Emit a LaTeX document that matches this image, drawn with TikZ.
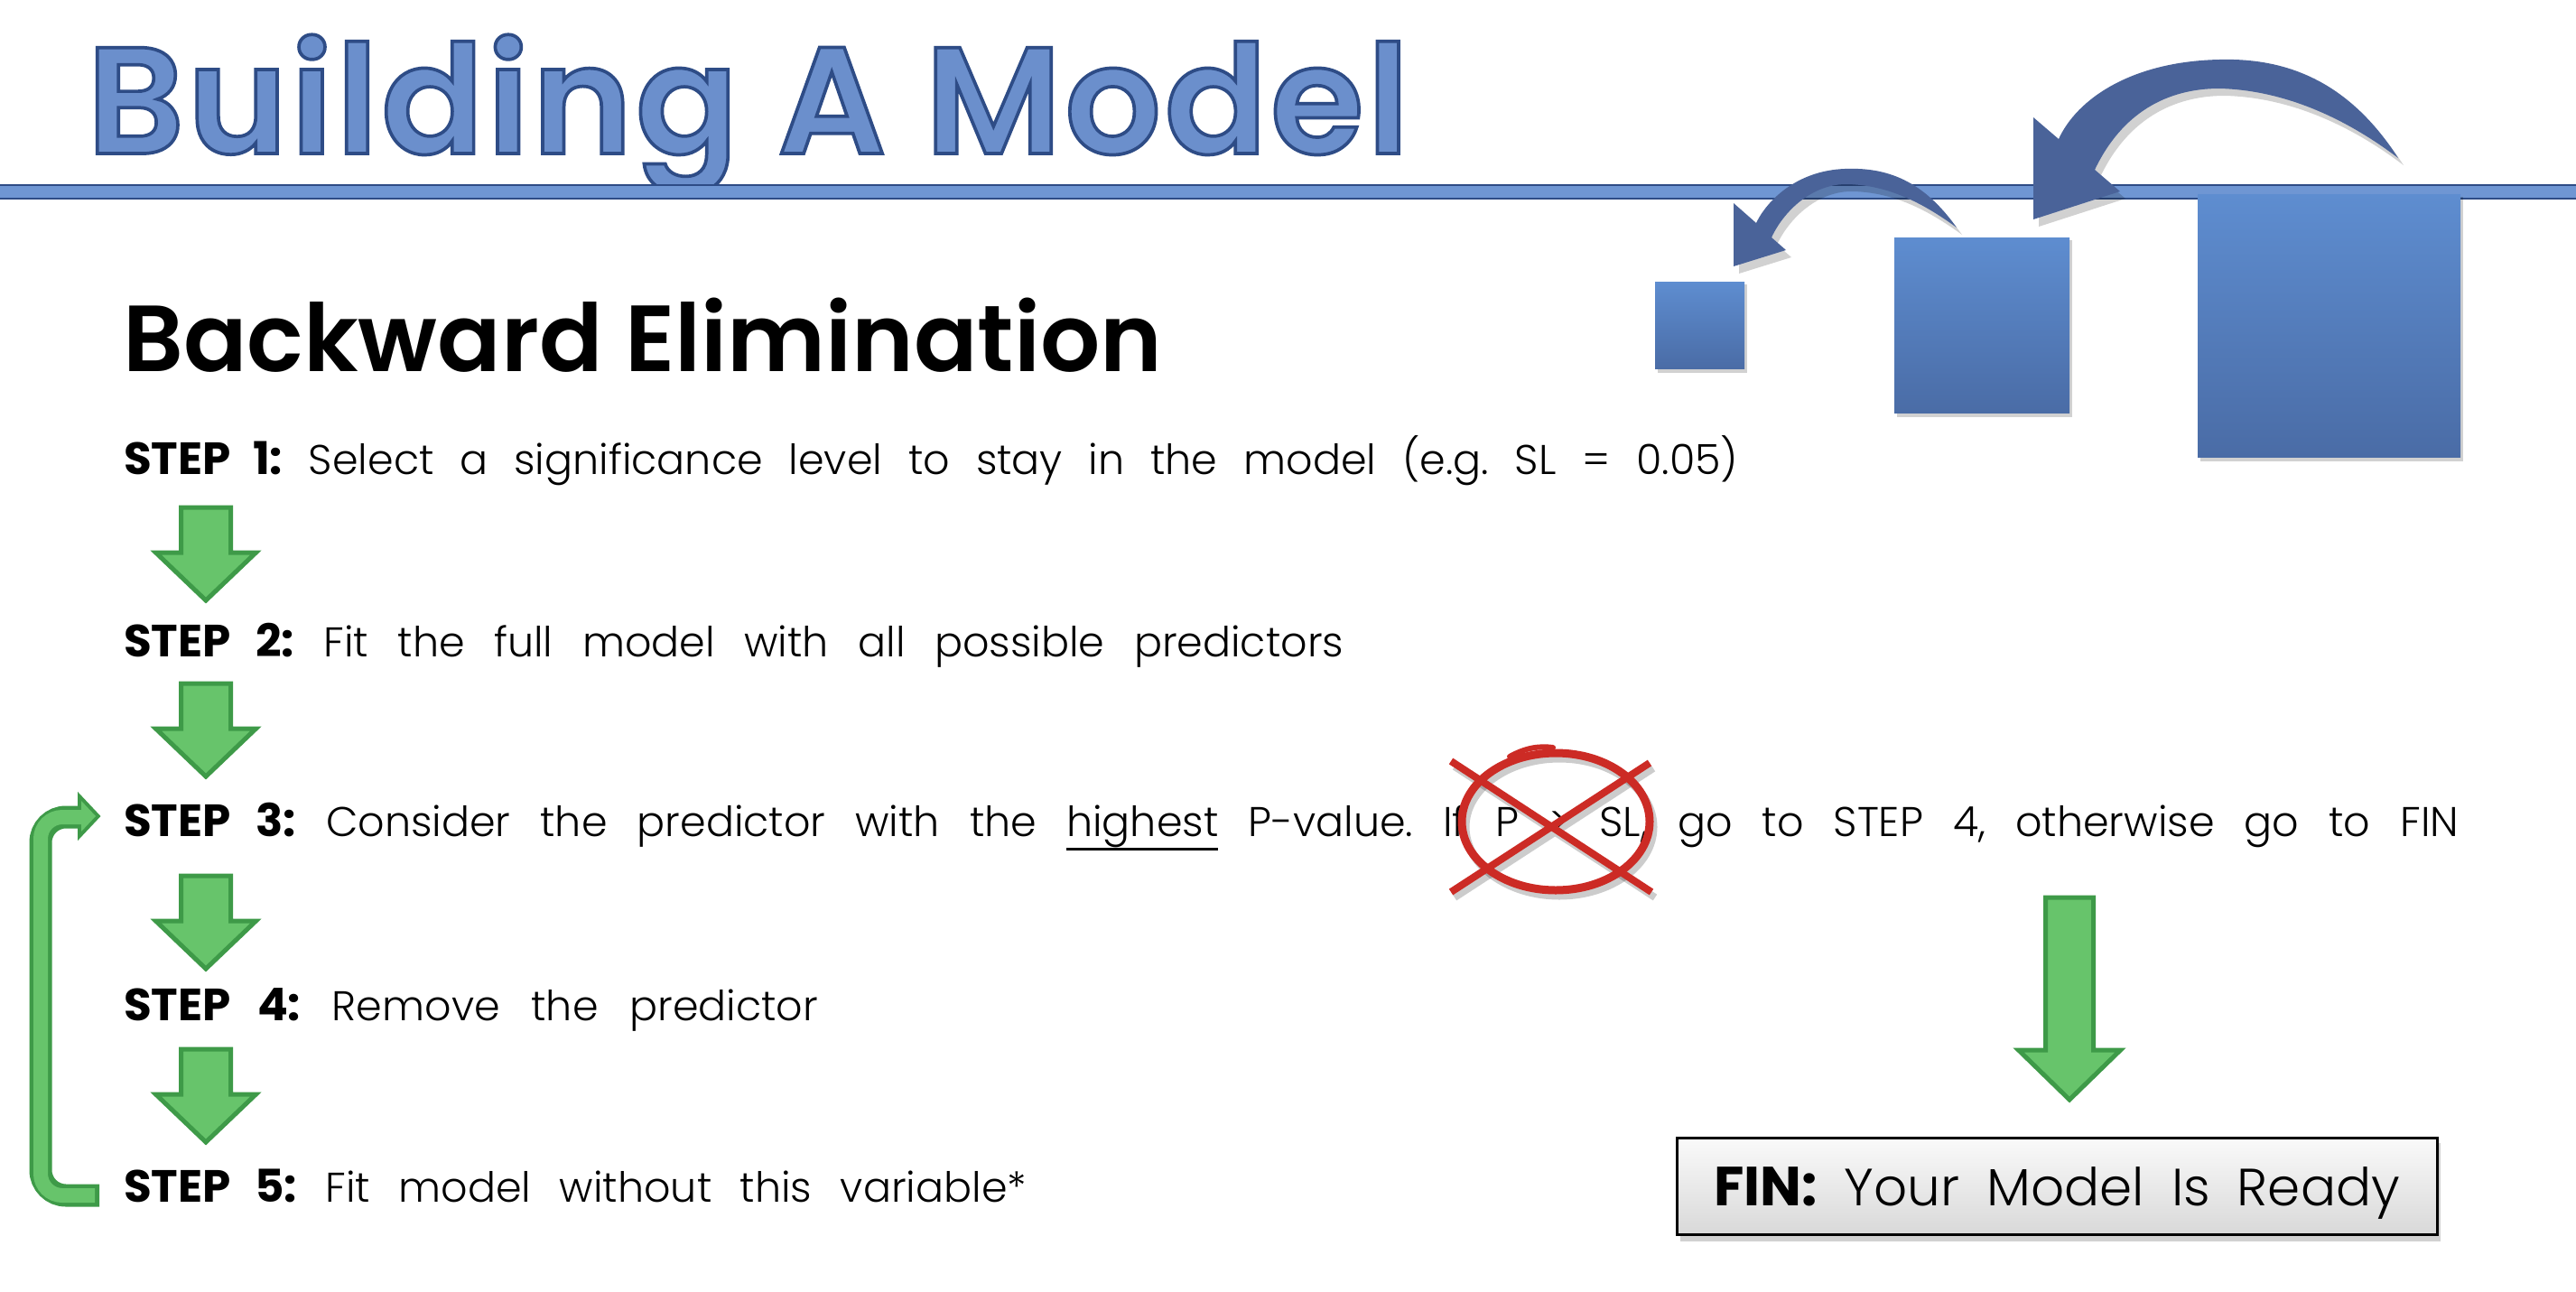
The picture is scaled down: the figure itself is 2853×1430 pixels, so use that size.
\documentclass[tikz,border=0pt]{standalone}
\usepackage{fontspec}
\usetikzlibrary{calc}
\IfFontExistsTF{Poppins Light}{\newfontfamily\lightf{Poppins Light}}{\newfontfamily\lightf{Poppins}}
\IfFontExistsTF{Poppins SemiBold}{\newfontfamily\semif{Poppins SemiBold}}{\newfontfamily\semif{Poppins}[FakeBold=1.5]}
\IfFontExistsTF{Poppins Bold}{\newfontfamily\boldf{Poppins Bold}}{\newfontfamily\boldf{Poppins}[FakeBold=2.5]}
\IfFontExistsTF{Poppins SemiBold}{\newfontfamily\titlef{Poppins SemiBold}[FakeBold=2.2,LetterSpace=2]}{\newfontfamily\titlef{Poppins}[FakeBold=3.5,LetterSpace=2]}
\definecolor{titlefill}{HTML}{6B8FCC}
\definecolor{titleedge}{HTML}{2E4C86}
\definecolor{barfill}{HTML}{6F96D3}
\definecolor{boxtop}{HTML}{5E8DD0}
\definecolor{boxbot}{HTML}{4A6CA6}
\definecolor{curvearrow}{HTML}{4A6399}
\definecolor{gfill}{HTML}{67C46B}
\definecolor{gedge}{HTML}{3E9A48}
\definecolor{xred}{HTML}{CC2B25}
\newcommand\myul[1]{\setbox0=\hbox{#1}\rlap{\rule[-16pt]{\wd0}{3pt}}\box0\relax}
\newcommand\stepdown[2]{\draw[garrow] (#1,#2) ++(-27.5,0) -- ++(55,0) -- ++(0,50) -- ++(28,0) -- ++(-55.5,53) -- ++(-55.5,-53) -- ++(28,0) -- cycle;}
\newcommand\outlinetext[1]{\special{pdf:bcolor [0.420 0.561 0.800] [0.180 0.298 0.525]}#1\special{pdf:ecolor}}
\tikzset{
  steptext/.style={anchor=base west, inner sep=0pt, font=\lightf\fontsize{46}{56}\selectfont},
  garrow/.style={fill=gfill, draw=gedge, line width=5pt, line join=miter},
  titletext/.style={anchor=base west, inner sep=0pt, font=\titlef\fontsize{168}{190}\selectfont},
  bluebox/.style={top color=boxtop, bottom color=boxbot},
  softshadow/.style={fill=black, opacity=0.18},
}
\newcommand\stepb[1]{{\boldf\fontsize{50}{56}\selectfont #1}}
\begin{document}
\frenchspacing
\begin{tikzpicture}[x=1pt,y=-1pt]
\useasboundingbox (0,0) rectangle (2853,1430);
\fill[white] (0,0) rectangle (2853,1430);

% title: blue fill with dark outline
\node[titletext] (title) at (96,170) {\outlinetext{Building A Model}};

% rule
\fill[barfill] (0,205) rectangle (2853,220);
\draw[titleedge, line width=2.5pt] (0,205) -- (2853,205) (0,220) -- (2853,220);

% squares
\fill[softshadow] (1836,315) rectangle (1935,413);
\fill[softshadow] (2101,266) rectangle (2295,462);
\fill[softshadow] (2437,218) rectangle (2728,511);
\shade[bluebox] (1833,312) rectangle (1932,408);
\shade[bluebox] (2098,263) rectangle (2292,457);
\shade[bluebox] (2434,215) rectangle (2725,506);

% curved arrows
\begin{scope}[shift={(6,8)}]
\fill[softshadow] (2656,175) .. controls (2600,88) and (2530,64) .. (2458,66) .. controls (2360,68) and (2300,110) .. (2280,154) -- (2252,130) -- (2252,243) -- (2348,212) -- (2320,188) .. controls (2350,125) and (2400,98) .. (2458,98) .. controls (2540,100) and (2610,140) .. cycle;
\fill[softshadow] (2167,252) .. controls (2130,200) and (2090,185) .. (2043,187) .. controls (1990,189) and (1957,222) .. (1945,247) -- (1920,225) -- (1920,295) -- (1978,277) -- (1962,263) .. controls (1975,235) and (2005,205) .. (2043,204) .. controls (2090,204) and (2130,225) .. cycle;
\end{scope}
\fill[curvearrow] (2656,175) .. controls (2600,88) and (2530,64) .. (2458,66) .. controls (2360,68) and (2300,110) .. (2280,154) -- (2252,130) -- (2252,243) -- (2348,212) -- (2320,188) .. controls (2350,125) and (2400,98) .. (2458,98) .. controls (2540,100) and (2610,140) .. cycle;
\fill[curvearrow] (2167,252) .. controls (2130,200) and (2090,185) .. (2043,187) .. controls (1990,189) and (1957,222) .. (1945,247) -- (1920,225) -- (1920,295) -- (1978,277) -- (1962,263) .. controls (1975,235) and (2005,205) .. (2043,204) .. controls (2090,204) and (2130,225) .. cycle;

% subtitle
\node[anchor=base west, inner sep=0pt, font=\semif\fontsize{104}{114}\selectfont] (sub) at (136,411) {Backward Elimination};

% steps
\node[steptext] (s1) at (137,525) {\makebox[1788pt][s]{\stepb{STEP 1:} Select a significance level to stay in the model (e.g. SL = 0.05)}};
\node[steptext] (s2) at (137,727) {\makebox[1351pt][s]{\stepb{STEP 2:} Fit the full model with all possible predictors}};
\node[steptext] (s3) at (137,926) {\makebox[2586pt][s]{\stepb{STEP 3:} Consider the predictor with the \myul{highest} P-value. If P > SL, go to STEP 4, otherwise go to FIN}};
\node[steptext] (s4) at (137,1130) {\makebox[769pt][s]{\stepb{STEP 4:} Remove the predictor}};
\node[steptext] (s5) at (137,1331) {\makebox[1000pt][s]{\stepb{STEP 5:} Fit model without this variable*}};

% green down arrows
\stepdown{228}{562}
\stepdown{228}{757}
\stepdown{228}{970}
\stepdown{228}{1162}
\draw[garrow] (2292,994) ++(-26.5,0) -- ++(53,0) -- ++(0,169) -- ++(30,0) -- ++(-56.5,55) -- ++(-56.5,-55) -- ++(30,0) -- cycle;

% loop arrow
\draw[gedge, line width=25pt, rounded corners=28pt] (110,1324) -- (45,1324) -- (45,905) -- (90,905);
\filldraw[gedge, line width=8pt, line join=miter] (90,887) -- (106,904) -- (90,921) -- cycle;
\draw[gfill, line width=16pt, rounded corners=24pt] (105,1324) -- (45,1324) -- (45,905) -- (93,905);
\fill[gfill] (90,887) -- (106,904) -- (90,921) -- cycle;

% red cross
\begin{scope}[shift={(4,6)}]
\draw[black, opacity=0.2, line width=9pt] (1723,910) ellipse [x radius=104, y radius=76];
\draw[black, opacity=0.2, line width=8pt] (1607,843) -- (1829,988) (1827,845) -- (1607,988);
\end{scope}
\draw[xred, line width=9pt] (1723,910) ellipse [x radius=104, y radius=76];
\draw[xred, line width=6pt, line cap=round] (1672,838) .. controls (1690,828) and (1705,826) .. (1720,828);
\draw[xred, line width=8pt] (1607,843) -- (1829,988) (1827,845) -- (1607,988);

% FIN box
\fill[softshadow] (1861,1266) rectangle (2703,1375);
\node[draw=black, line width=3pt, top color=gray!4, bottom color=gray!30, minimum width=842pt, minimum height=107pt, inner sep=0pt, text height=55pt, text depth=12pt, font=\lightf\fontsize{58}{70}\selectfont] (fin) at (2278,1313.5) {\makebox[760pt][s]{{\boldf\fontsize{61}{70}\selectfont FIN:} Your Model Is Ready}};
\end{tikzpicture}
\end{document}
